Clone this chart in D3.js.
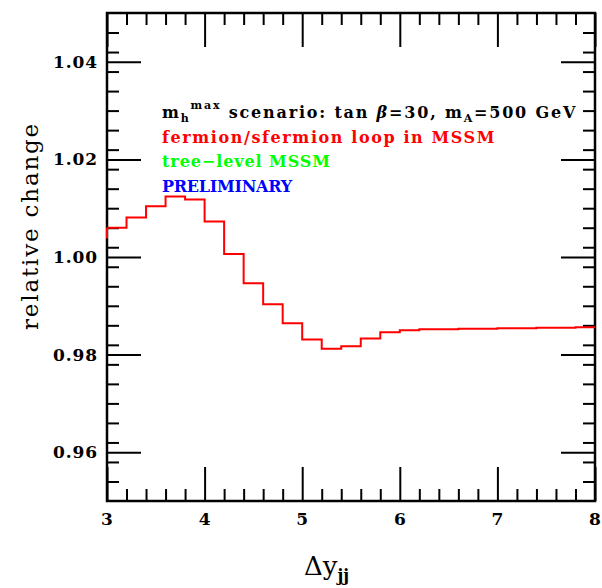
<!DOCTYPE html>
<html><head><meta charset="utf-8">
<script src="https://cdn.jsdelivr.net/npm/d3@7"></script>
<style>body{margin:0;background:#fff}svg{display:block}</style>
</head><body>
<svg id="c" width="602" height="588"></svg>
<script>
// ---- data ----
const binEdges = [3.0,3.2,3.4,3.6,3.8,4.0,4.2,4.4,4.6,4.8,5.0,5.2,5.4,5.6,5.8,6.0,6.2,6.4,6.6,6.8,7.0,7.2,7.4,7.6,7.8,8.0];
const binValues = [1.0060,1.0081,1.0104,1.0124,1.0118,1.0073,1.0006,0.9946,0.9903,0.9864,0.9831,0.9812,0.9817,0.9833,0.9846,0.9850,0.9852,0.9852,0.9853,0.9853,0.9854,0.9854,0.9855,0.9855,0.9856];
const xTicks = [3,4,5,6,7,8];
const xMinor = [3.2,3.4,3.6,3.8,4.2,4.4,4.6,4.8,5.2,5.4,5.6,5.8,6.2,6.4,6.6,6.8,7.2,7.4,7.6,7.8];
const yTicks = [0.96,0.98,1.00,1.02,1.04];
const yTickLabels = ["0.96","0.98","1.00","1.02","1.04"];
const yMinor = [0.954,0.958,0.962,0.966,0.970,0.974,0.978,0.982,0.986,0.990,0.994,0.998,1.002,1.006,1.010,1.014,1.018,1.022,1.026,1.030,1.034,1.038,1.042,1.046];

const L=107, R=595, T=13, B=501;
const svg = d3.select("#c");
const x = d3.scaleLinear().domain([3,8]).range([L,R]);
const y = d3.scaleLinear().domain([0.95,1.05]).range([B,T]);
const font = "'DejaVu Serif', serif";

function fitWidth(sel, target){
  sel.each(function(){
    const n = this.textContent.length;
    const w = this.getComputedTextLength();
    d3.select(this).attr("letter-spacing", ((target - w) / n).toFixed(2));
  });
}

function styleAxis(g){
  g.select(".domain").remove();
  g.selectAll("line").attr("stroke","#000").attr("stroke-width",2);
  g.selectAll("text").remove();
}
const MAJ=34, MIN=12;
svg.append("g").attr("transform",`translate(0,${B})`).call(d3.axisBottom(x).tickValues(xTicks).tickSize(-MAJ)).call(styleAxis);
svg.append("g").attr("transform",`translate(0,${B})`).call(d3.axisBottom(x).tickValues(xMinor).tickSize(-MIN)).call(styleAxis);
svg.append("g").attr("transform",`translate(0,${T})`).call(d3.axisTop(x).tickValues(xTicks).tickSize(-MAJ)).call(styleAxis);
svg.append("g").attr("transform",`translate(0,${T})`).call(d3.axisTop(x).tickValues(xMinor).tickSize(-MIN)).call(styleAxis);
svg.append("g").attr("transform",`translate(${L},0)`).call(d3.axisLeft(y).tickValues(yTicks).tickSize(-MAJ)).call(styleAxis);
svg.append("g").attr("transform",`translate(${L},0)`).call(d3.axisLeft(y).tickValues(yMinor).tickSize(-MIN)).call(styleAxis);
svg.append("g").attr("transform",`translate(${R},0)`).call(d3.axisRight(y).tickValues(yTicks).tickSize(-MAJ)).call(styleAxis);
svg.append("g").attr("transform",`translate(${R},0)`).call(d3.axisRight(y).tickValues(yMinor).tickSize(-MIN)).call(styleAxis);

svg.append("rect").attr("x",L).attr("y",T).attr("width",R-L).attr("height",B-T)
  .attr("fill","none").attr("stroke","#000").attr("stroke-width",2.5);

svg.append("g").selectAll("text").data(xTicks).join("text")
  .attr("x",d=>x(d)).attr("y",525).attr("text-anchor","middle")
  .attr("font-family",font).attr("font-weight","bold").attr("font-size",17).text(d=>d);
const yl = svg.append("g").selectAll("text").data(yTicks).join("text")
  .attr("x",98).attr("y",d=>y(d)+6).attr("text-anchor","end")
  .attr("font-family",font).attr("font-weight","bold").attr("font-size",17)
  .text((d,i)=>yTickLabels[i]);
fitWidth(yl, 45);

const pts=[];
binValues.forEach((v,i)=>{pts.push([binEdges[i],v]);pts.push([binEdges[i+1],v]);});
svg.append("path").datum(pts)
  .attr("d",d3.line().x(d=>x(d[0])).y(d=>y(d[1])))
  .attr("fill","none").attr("stroke","#ff0000").attr("stroke-width",2);
svg.append("line").attr("x1",x(3)).attr("x2",x(3)).attr("y1",y(binValues[0])).attr("y2",y(1.0038))
  .attr("stroke","#ff0000").attr("stroke-width",2);

const lg = svg.append("g").attr("font-family",font).attr("font-weight","bold").attr("font-size",16);
const t1 = lg.append("text").attr("x",162).attr("y",118).attr("fill","#000");
t1.append("tspan").text("m");
t1.append("tspan").attr("font-size",11).attr("dy",4).text("h");
t1.append("tspan").attr("font-size",11).attr("dy",-13).text("max");
t1.append("tspan").attr("dy",9).text(" scenario: tan ");
t1.append("tspan").attr("font-style","italic").text("β");
t1.append("tspan").text("=30, m");
t1.append("tspan").attr("font-size",11).attr("dy",4).text("A");
t1.append("tspan").attr("dy",-4).text("=500 GeV");
fitWidth(t1, 415);
fitWidth(lg.append("text").attr("x",162).attr("y",143).attr("fill","#ff0000").text("fermion/sfermion loop in MSSM"), 334);
fitWidth(lg.append("text").attr("x",162).attr("y",167).attr("fill","#00ff00").text("tree\u2212level MSSM"), 169);
fitWidth(lg.append("text").attr("x",162).attr("y",192).attr("fill","#0000ff").text("PRELIMINARY"), 130);

const ytl = svg.append("text").attr("transform","translate(38,226) rotate(-90)").attr("text-anchor","middle")
  .attr("font-family",font).attr("font-size",23).text("relative change");
fitWidth(ytl, 208);
const xt = svg.append("text").attr("x",304).attr("y",575).attr("font-family",font).attr("font-size",26);
xt.append("tspan").text("Δy");
xt.append("tspan").attr("font-size",16).attr("font-weight","bold").attr("dy",6).text("jj");
</script>
</body></html>
